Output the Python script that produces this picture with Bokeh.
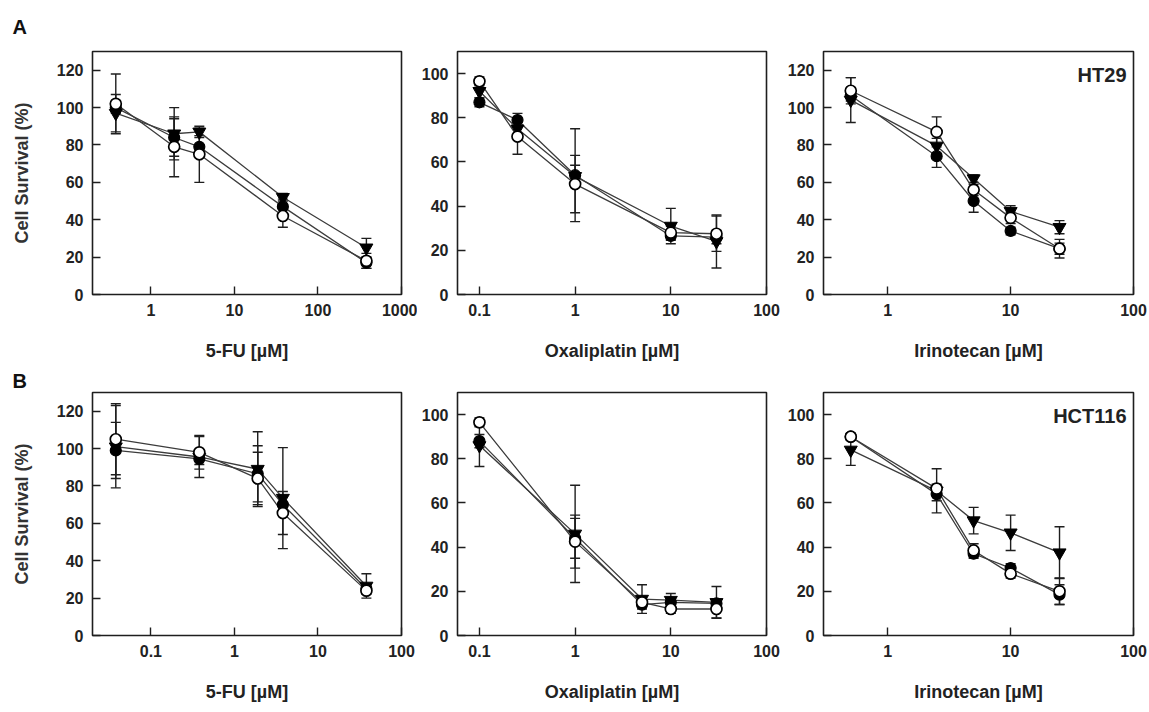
from bokeh.plotting import figure
from bokeh.models import (ColumnDataSource, Whisker, TeeHead, FixedTicker,
                          CustomJSTickFormatter, Label, Range1d)
from bokeh.layouts import column, row
from bokeh.embed import file_html
from bokeh.resources import INLINE

FONT = "Liberation Sans"

# ---------------- Data ----------------
# Row A: HT29
a_fu_x = [0.38, 1.9, 3.8, 38, 380]
a_fu_filled = [100, 84, 79, 47, 17]
a_fu_filled_err = [3, 10, 5, 4, 3]
a_fu_open = [102, 79, 75, 42, 18]
a_fu_open_err = [16, 16, 15, 6, 4]
a_fu_tri = [97, 86, 87, 52, 25]
a_fu_tri_err = [10, 14, 2, 2, 5]

a_ox_x = [0.1, 0.25, 1, 10, 30]
a_ox_filled = [87, 79, 54, 26.5, 26]
a_ox_filled_err = [2, 3, 21, 2, 3]
a_ox_open = [96.5, 71.5, 50, 28, 27.5]
a_ox_open_err = [2, 8, 13, 3, 8]
a_ox_tri = [92, 75, 53.5, 31, 24]
a_ox_tri_err = [3, 3, 5, 8, 12]

a_ir_x = [0.5, 2.5, 5, 10, 25]
a_ir_filled = [106.5, 74, 50, 34, 24.5]
a_ir_filled_err = [3, 6, 6, 2, 3]
a_ir_open = [109, 87, 56, 41, 24.5]
a_ir_open_err = [7, 8, 3, 3, 5]
a_ir_tri = [104, 79.5, 62, 44.5, 36]
a_ir_tri_err = [12, 4, 2, 3, 3.5]

# Row B: HCT116
b_fu_x = [0.038, 0.38, 1.9, 3.8, 38]
b_fu_filled = [99, 94.5, 86.5, 70, 25]
b_fu_filled_err = [15, 3, 15, 4, 2]
b_fu_open = [105, 98, 84, 65.5, 24]
b_fu_open_err = [19, 9, 14, 11.5, 2]
b_fu_tri = [101, 95.5, 89, 73.5, 26.5]
b_fu_tri_err = [22, 11, 20, 27, 6.5]

b_ox_x = [0.1, 1, 5, 10, 30]
b_ox_filled = [88, 44, 14, 15, 14.5]
b_ox_filled_err = [3, 9, 2, 2, 2]
b_ox_open = [96.5, 42.5, 15, 12, 12]
b_ox_open_err = [2, 12, 2, 2, 4]
b_ox_tri = [86, 46, 16.5, 16, 15]
b_ox_tri_err = [9.5, 22, 6.5, 3, 7.2]

b_ir_x = [0.5, 2.5, 5, 10, 25]
b_ir_filled = [90, 64, 37, 30.5, 18.5]
b_ir_filled_err = [1.5, 3, 2, 2, 4.5]
b_ir_open = [90, 66.5, 38.5, 28, 20]
b_ir_open_err = [1.5, 2, 3, 2, 6]
b_ir_tri = [84, 65.5, 52, 46.5, 37.5]
b_ir_tri_err = [7, 10, 6, 8, 11.7]

# axis ranges / ticks
fu_a_xlim = (0.2, 1000)
fu_a_xticks = [1, 10, 100, 1000]
fu_b_xlim = (0.02, 100)
fu_b_xticks = [0.1, 1, 10, 100]
ox_xlim = (0.059, 100)
ox_xticks = [0.1, 1, 10, 100]
ir_xlim = (0.3, 100)
ir_xticks = [1, 10, 100]
y130 = (0, 130)
y130_ticks = [0, 20, 40, 60, 80, 100, 120]
y110 = (0, 110)
y110_ticks = [0, 20, 40, 60, 80, 100]

x_labels = ["5-FU [µM]", "Oxaliplatin [µM]", "Irinotecan [µM]"]
y_label = "Cell Survival (%)"
row_labels = ["A", "B"]
cell_lines = ["HT29", "HCT116"]

INK = "#1e1e1e"
LINE = "#3c3c3c"


def make_panel(x, series, xlim, xticks, ylim, yticks, xlabel, width, height,
               bl, br, bt, bb, ylabel=None, title=None, title_standoff=0,
               cell=None, xstand=22):
    p = figure(width=width, height=height, x_axis_type="log",
               x_range=Range1d(*xlim), y_range=Range1d(*ylim),
               output_backend="svg", toolbar_location=None,
               min_border_left=bl, min_border_right=br,
               min_border_top=bt, min_border_bottom=bb)
    p.background_fill_color = "white"
    p.border_fill_color = "white"
    p.outline_line_color = INK
    p.outline_line_width = 1.6
    p.xgrid.visible = False
    p.ygrid.visible = False

    for ax in (p.xaxis[0], p.yaxis[0]):
        ax.axis_line_color = None
        ax.major_tick_in = 8
        ax.major_tick_out = 0
        ax.minor_tick_in = 0
        ax.minor_tick_out = 0
        ax.major_tick_line_color = INK
        ax.major_tick_line_width = 1.4
        ax.major_label_text_font = FONT
        ax.major_label_text_font_size = "16px"
        ax.major_label_text_font_style = "bold"
        ax.major_label_text_color = "#222222"
        ax.major_label_standoff = 9
        ax.axis_label_text_font = FONT
        ax.axis_label_text_font_style = "bold"
        ax.axis_label_text_color = "#222222"

    p.xaxis[0].ticker = FixedTicker(ticks=xticks)
    p.xaxis[0].formatter = CustomJSTickFormatter(code="return String(tick);")
    p.yaxis[0].ticker = FixedTicker(ticks=yticks)
    p.xaxis[0].axis_label = xlabel
    p.xaxis[0].axis_label_text_font_size = "18px"
    p.xaxis[0].axis_label_standoff = xstand
    if ylabel:
        p.yaxis[0].axis_label = ylabel
        p.yaxis[0].axis_label_text_font_size = "18px"
        p.yaxis[0].axis_label_standoff = 22
        p.yaxis[0].axis_label_text_color = "#333333"

    if title:
        p.title.text = title
        p.title.align = "left"
        p.title.offset = -(bl - 12)
        p.title.standoff = title_standoff
        p.title.text_font = FONT
        p.title.text_font_style = "bold"
        p.title.text_font_size = "20px"
        p.title.text_color = "#111111"

    # lines + error bars first
    for y, err, kind in series:
        src = ColumnDataSource(dict(
            x=x, y=y,
            upper=[a + b for a, b in zip(y, err)],
            lower=[a - b for a, b in zip(y, err)]))
        p.line("x", "y", source=src, line_color=LINE, line_width=1.3)
        w = Whisker(source=src, base="x", upper="upper", lower="lower",
                    dimension="height", line_color=INK, line_width=1.4,
                    upper_head=TeeHead(size=10, line_color=INK, line_width=1.4),
                    lower_head=TeeHead(size=10, line_color=INK, line_width=1.4),
                    level="underlay")
        p.add_layout(w)

    order = {"filled": 0, "tri": 1, "open": 2}
    for y, err, kind in sorted(series, key=lambda s: order[s[2]]):
        src = ColumnDataSource(dict(x=x, y=y))
        if kind == "filled":
            p.scatter("x", "y", source=src, marker="circle", size=11,
                      fill_color="black", line_color="black", line_width=1.2)
        elif kind == "open":
            p.scatter("x", "y", source=src, marker="circle", size=11,
                      fill_color="white", line_color="black", line_width=1.7)
        else:
            p.scatter("x", "y", source=src, marker="inverted_triangle",
                      size=13, fill_color="black", line_color="black",
                      line_width=1.0)

    if cell:
        p.add_layout(Label(x=xlim[1], y=ylim[1], text=cell,
                           x_offset=-7, y_offset=-12,
                           text_baseline="top", text_align="right",
                           text_font=FONT, text_font_style="bold",
                           text_font_size="20px", text_color="#222222"))
    return p


# page frames at x 92-401, 457-766, 823-1133 ; y 50-294 and 392-635
W = [417, 364, 366]
BL = [92, 40, 42]
BR = [16, 15, 14]
HA, HB = 366, 344
BT_A, BB_A = 50, 72
BT_B, BB_B = 26, 75

a1 = make_panel(a_fu_x, [(a_fu_filled, a_fu_filled_err, "filled"),
                         (a_fu_open, a_fu_open_err, "open"),
                         (a_fu_tri, a_fu_tri_err, "tri")],
                fu_a_xlim, fu_a_xticks, y130, y130_ticks, x_labels[0],
                W[0], HA, BL[0], BR[0], BT_A, BB_A, ylabel=y_label,
                title=row_labels[0], title_standoff=27)
a2 = make_panel(a_ox_x, [(a_ox_filled, a_ox_filled_err, "filled"),
                         (a_ox_open, a_ox_open_err, "open"),
                         (a_ox_tri, a_ox_tri_err, "tri")],
                ox_xlim, ox_xticks, y110, y110_ticks, x_labels[1],
                W[1], HA, BL[1], BR[1], BT_A, BB_A)
a3 = make_panel(a_ir_x, [(a_ir_filled, a_ir_filled_err, "filled"),
                         (a_ir_open, a_ir_open_err, "open"),
                         (a_ir_tri, a_ir_tri_err, "tri")],
                ir_xlim, ir_xticks, y130, y130_ticks, x_labels[2],
                W[2], HA, BL[2], BR[2], BT_A, BB_A, cell=cell_lines[0])

b1 = make_panel(b_fu_x, [(b_fu_filled, b_fu_filled_err, "filled"),
                         (b_fu_open, b_fu_open_err, "open"),
                         (b_fu_tri, b_fu_tri_err, "tri")],
                fu_b_xlim, fu_b_xticks, y130, y130_ticks, x_labels[0],
                W[0], HB, BL[0], BR[0], BT_B, BB_B, ylabel=y_label,
                title=row_labels[1], title_standoff=2)
b2 = make_panel(b_ox_x, [(b_ox_filled, b_ox_filled_err, "filled"),
                         (b_ox_open, b_ox_open_err, "open"),
                         (b_ox_tri, b_ox_tri_err, "tri")],
                ox_xlim, ox_xticks, y110, y110_ticks, x_labels[1],
                W[1], HB, BL[1], BR[1], BT_B, BB_B)
b3 = make_panel(b_ir_x, [(b_ir_filled, b_ir_filled_err, "filled"),
                         (b_ir_open, b_ir_open_err, "open"),
                         (b_ir_tri, b_ir_tri_err, "tri")],
                ir_xlim, ir_xticks, y110, y110_ticks, x_labels[2],
                W[2], HB, BL[2], BR[2], BT_B, BB_B, cell=cell_lines[1])

layout = column(row(a1, a2, a3), row(b1, b2, b3))
open("out.html", "w").write(file_html(layout, INLINE))
